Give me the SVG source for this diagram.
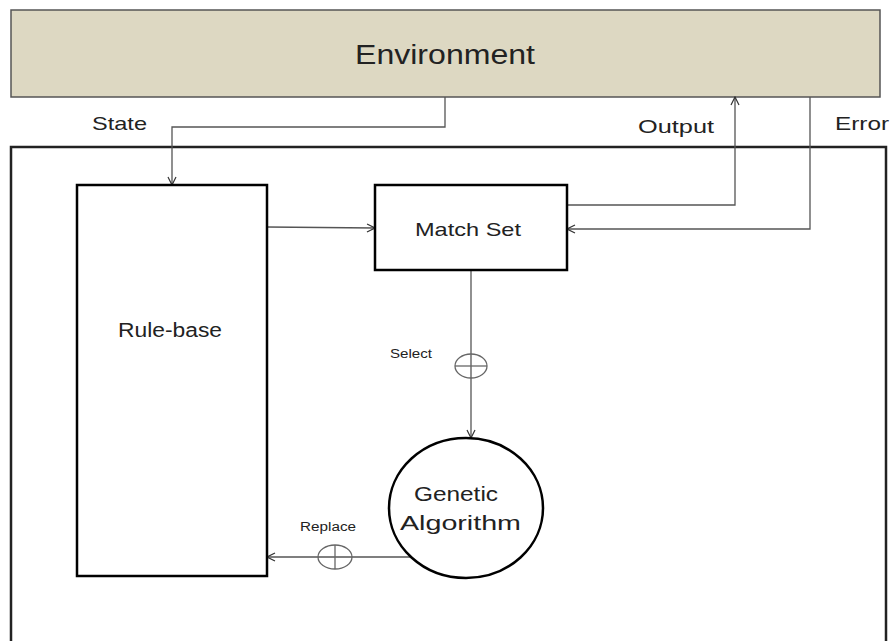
<svg xmlns="http://www.w3.org/2000/svg" width="891" height="641" viewBox="0 0 891 641">
<defs>
<marker id="arr" markerWidth="10" markerHeight="10" refX="9" refY="5" orient="auto" markerUnits="userSpaceOnUse">
<path d="M1,1 L9,5 L1,9" fill="none" stroke="#333" stroke-width="1.2"/>
</marker>
<style>
text{font-family:"Liberation Sans",Arial,sans-serif;fill:#222}
.thin{fill:none;stroke:#555;stroke-width:1.3}
.box{fill:#fff;stroke:#000;stroke-width:2.5}
.sym{fill:none;stroke:#666;stroke-width:1.3}
</style>
</defs>
<rect width="891" height="641" fill="#fff"/>
<g id="environment">
<rect x="11" y="10" width="869" height="87" fill="#ddd8c2" stroke="#555" stroke-width="1.5"/>
<text x="355" y="64" font-size="27" textLength="180" lengthAdjust="spacingAndGlyphs">Environment</text>
</g>
<g id="system">
<rect x="11" y="147" width="875" height="510" fill="none" stroke="#222" stroke-width="2.5"/>
</g>
<g id="labels">
<text x="92" y="130" font-size="19" textLength="55" lengthAdjust="spacingAndGlyphs">State</text>
<text x="638" y="133" font-size="19" textLength="76" lengthAdjust="spacingAndGlyphs">Output</text>
<text x="835" y="130" font-size="19" textLength="54" lengthAdjust="spacingAndGlyphs">Error</text>
<text x="390" y="358" font-size="12" textLength="42" lengthAdjust="spacingAndGlyphs">Select</text>
<text x="300" y="531" font-size="12" textLength="56" lengthAdjust="spacingAndGlyphs">Replace</text>
</g>
<g id="connectors">
<polyline class="thin" points="445,97 445,127 172,127 172,185" marker-end="url(#arr)"/>
<line class="thin" x1="267" y1="227" x2="375" y2="228" marker-end="url(#arr)"/>
<polyline class="thin" points="567,205 735,205 735,97" marker-end="url(#arr)"/>
<polyline class="thin" points="810,97 810,229 567,229" marker-end="url(#arr)"/>
<line class="thin" x1="471" y1="270" x2="471" y2="438" marker-end="url(#arr)"/>
<line class="thin" x1="410" y1="557" x2="267" y2="557" marker-end="url(#arr)"/>
</g>
<g id="select-op">
<ellipse class="sym" cx="471" cy="366" rx="16" ry="12"/>
<line class="sym" x1="455" y1="366" x2="487" y2="366"/>
</g>
<g id="replace-op">
<ellipse class="sym" cx="335" cy="557" rx="17" ry="12"/>
<line class="sym" x1="335" y1="545" x2="335" y2="569"/>
</g>
<g id="rule-base">
<rect class="box" x="77" y="185" width="190" height="391"/>
<text x="118" y="337" font-size="20" textLength="104" lengthAdjust="spacingAndGlyphs">Rule-base</text>
</g>
<g id="match-set">
<rect class="box" x="375" y="185" width="192" height="85"/>
<text x="415" y="236" font-size="19" textLength="106" lengthAdjust="spacingAndGlyphs">Match Set</text>
</g>
<g id="genetic-algorithm">
<ellipse class="box" cx="466" cy="508" rx="77" ry="70"/>
<text x="414" y="501" font-size="20" textLength="84" lengthAdjust="spacingAndGlyphs">Genetic</text>
<text x="400" y="530" font-size="20" textLength="121" lengthAdjust="spacingAndGlyphs">Algorithm</text>
</g>
</svg>
